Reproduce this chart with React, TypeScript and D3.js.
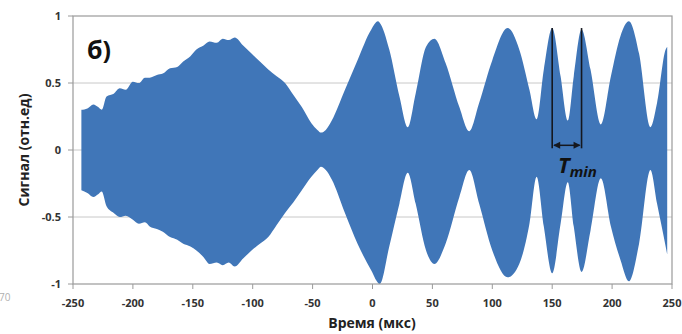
import React from "react";
import * as d3 from "d3";

// Envelope of the dense signal
const times = [
  -243, -238, -233, -229, -226, -222, -216, -211, -206, -200, -195, -190, -186, -180, -175,
  -169, -163, -158, -152, -147, -141, -136, -130, -125, -120, -115, -108, -101, -94, -87,
  -80, -73, -66, -59, -51, -46, -43, -39, -34, -23, -12.5, -1, 4.5, 6, 14, 22.5, 29.4, 36,
  44.7, 51.7, 61, 72.5, 80.8, 89, 100, 112.8, 122.5, 131, 137, 143, 150, 157, 163, 168,
  174.5, 182, 190.6, 199, 207, 214, 222.5, 232, 237.5, 244.7, 246,
];
const upper = [
  0.3, 0.31, 0.34, 0.32, 0.3, 0.4, 0.42, 0.46, 0.45, 0.51, 0.5, 0.54, 0.54, 0.56, 0.57,
  0.61, 0.62, 0.66, 0.7, 0.75, 0.78, 0.81, 0.8, 0.83, 0.82, 0.84, 0.78, 0.72, 0.66, 0.6,
  0.55, 0.5, 0.41, 0.32, 0.2, 0.15, 0.13, 0.15, 0.22, 0.45, 0.67, 0.9, 0.96, 0.95, 0.75, 0.4,
  0.17, 0.42, 0.77, 0.83, 0.65, 0.32, 0.14, 0.35, 0.67, 0.91, 0.75, 0.45, 0.23, 0.6, 0.91,
  0.55, 0.22, 0.55, 0.9, 0.6, 0.19, 0.55, 0.85, 0.96, 0.72, 0.17, 0.35, 0.75, 0.77,
];
const lower = [
  -0.3, -0.32, -0.35, -0.33, -0.31, -0.42, -0.47, -0.5, -0.49, -0.52, -0.55, -0.54, -0.57,
  -0.59, -0.61, -0.65, -0.67, -0.7, -0.72, -0.75, -0.8, -0.85, -0.84, -0.86, -0.84, -0.87,
  -0.81, -0.75, -0.7, -0.65, -0.56, -0.47, -0.39, -0.3, -0.2, -0.15, -0.125, -0.15, -0.22,
  -0.47, -0.7, -0.9, -0.99, -1.0, -0.72, -0.4, -0.17, -0.4, -0.75, -0.85, -0.7, -0.35, -0.15,
  -0.4, -0.75, -0.95, -0.85, -0.55, -0.2, -0.57, -0.92, -0.55, -0.24, -0.57, -0.91, -0.6,
  -0.21, -0.57, -0.82, -0.98, -0.7, -0.15, -0.4, -0.72, -0.78,
];

const xTicks = [-250, -200, -150, -100, -50, 0, 50, 100, 150, 200, 250];
const yTicks = [-1, -0.5, 0, 0.5, 1];
const yTickLabels = ["-1", "-0.5", "0", "0.5", "1"];
const gridValues = [-0.5, 0, 0.5];

const tMinStart = 150;
const tMinEnd = 174.5;
const tMinTop = 0.91;
const tMinArrow = 0.035;

const W = 682;
const H = 334;
const FONT = "'Open Sans', 'DejaVu Sans', sans-serif";
const BLUE = "#4076b8";

export default function App() {
  const x = d3.scaleLinear().domain([-250, 250]).range([73, 672]);
  const y = d3.scaleLinear().domain([-1, 1]).range([284, 16]);
  const data = times.map((t, i) => ({ t, hi: upper[i], lo: lower[i] }));
  const area = d3
    .area<{ t: number; hi: number; lo: number }>()
    .x((d) => x(d.t))
    .y0((d) => y(d.lo))
    .y1((d) => y(d.hi))
    .curve(d3.curveMonotoneX);

  const ax0 = x(tMinStart);
  const ax1 = x(tMinEnd);
  const ay = y(tMinArrow);
  const ah = 5;

  return (
    <svg
      width={W}
      height={H}
      style={{ position: "absolute", left: 0, top: 0, background: "#fff" }}
    >
      {/* faint cropped fragment at left edge */}
      <text x={-1} y={301} fontSize={10} fill="#b0b0b0" fontFamily={FONT}>
        70
      </text>
      {/* gridlines */}
      {gridValues.map((v) => (
        <line
          key={v}
          x1={x(-250)}
          x2={x(250)}
          y1={y(v)}
          y2={y(v)}
          stroke="#c8c8c8"
          strokeWidth={1}
        />
      ))}
      {/* signal */}
      <path d={area(data) || ""} fill={BLUE} />
      {/* plot border */}
      <rect
        x={x(-250)}
        y={y(1)}
        width={x(250) - x(-250)}
        height={y(-1) - y(1)}
        fill="none"
        stroke="#9a9a9a"
        strokeWidth={1.2}
      />
      {/* x ticks */}
      {xTicks.map((t) => (
        <g key={t}>
          <line x1={x(t)} x2={x(t)} y1={y(-1)} y2={y(-1) + 5} stroke="#9a9a9a" />
          <text
            x={x(t)}
            y={307}
            textAnchor="middle"
            fontSize={11}
            fontWeight="bold"
            fill="#333"
            fontFamily={FONT}
          >
            {t}
          </text>
        </g>
      ))}
      {/* y ticks */}
      {yTicks.map((v, i) => (
        <g key={v}>
          <line x1={x(-250) - 5} x2={x(-250)} y1={y(v)} y2={y(v)} stroke="#9a9a9a" />
          <text
            x={61}
            y={y(v) + 4}
            textAnchor="end"
            fontSize={11}
            fontWeight="bold"
            fill="#333"
            fontFamily={FONT}
          >
            {yTickLabels[i]}
          </text>
        </g>
      ))}
      {/* axis titles */}
      <text
        x={372}
        y={328}
        textAnchor="middle"
        fontSize={14}
        fontWeight="bold"
        fill="#222"
        fontFamily={FONT}
      >
        Время (мкс)
      </text>
      <text
        transform={`translate(29,${y(0)}) rotate(-90)`}
        textAnchor="middle"
        fontSize={14}
        fontWeight="bold"
        fill="#222"
        fontFamily={FONT}
      >
        Сигнал (отн.ед)
      </text>
      {/* panel label */}
      <text x={87} y={59} fontSize={25} fontWeight="bold" fill="#111" fontFamily={FONT}>
        б)
      </text>
      {/* T_min annotation */}
      <line x1={ax0} x2={ax0} y1={y(tMinTop)} y2={ay + 3} stroke="#15181f" strokeWidth={1.6} />
      <line x1={ax1} x2={ax1} y1={y(tMinTop)} y2={ay + 3} stroke="#15181f" strokeWidth={1.6} />
      <line x1={ax0 + 2} x2={ax1 - 2} y1={ay} y2={ay} stroke="#15181f" strokeWidth={1.5} />
      <path
        d={`M${ax0 + 1},${ay} L${ax0 + 1 + ah + 2},${ay - 3.5} L${ax0 + 1 + ah + 2},${ay + 3.5} Z`}
        fill="#15181f"
      />
      <path
        d={`M${ax1 - 1},${ay} L${ax1 - 1 - ah - 2},${ay - 3.5} L${ax1 - 1 - ah - 2},${ay + 3.5} Z`}
        fill="#15181f"
      />
      <text
        x={558}
        y={173}
        fontSize={22}
        fontWeight="bold"
        fontStyle="italic"
        fill="#111"
        fontFamily={FONT}
      >
        T
        <tspan fontSize={15} dy={4}>
          min
        </tspan>
      </text>
    </svg>
  );
}
